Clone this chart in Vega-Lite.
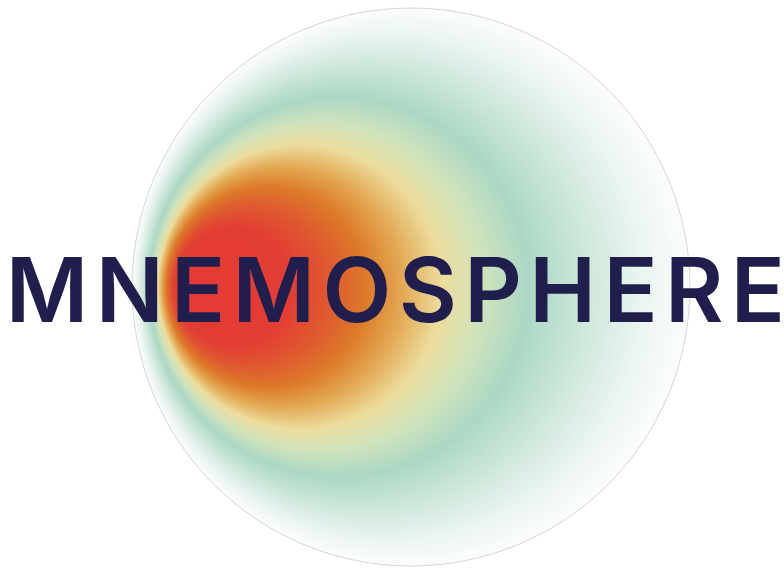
{
  "$schema": "https://vega.github.io/schema/vega-lite/v6.json",
  "width": 784,
  "height": 569,
  "padding": 0,
  "autosize": {"type": "none"},
  "background": "#ffffff",
  "config": {"view": {"stroke": null}},
  "layer": [
    {
      "data": {"values": [{"element": "sphere", "x": 0, "y": 0}]},
      "mark": {
        "type": "point",
        "shape": "circle",
        "filled": true,
        "opacity": 1,
        "size": 311364,
        "stroke": "#b8b8b8",
        "strokeWidth": 0.6,
        "fill": {
          "gradient": "radial",
          "x1": 0.095, "y1": 0.5, "r1": 0,
          "x2": 0.5, "y2": 0.5, "r2": 0.5,
          "stops": [
            {"offset": 0, "color": "#e63a36"},
            {"offset": 0.21, "color": "#e33d34"},
            {"offset": 0.29, "color": "#df5a2f"},
            {"offset": 0.36, "color": "#dd7a2a"},
            {"offset": 0.43, "color": "#e3a853"},
            {"offset": 0.51, "color": "#ecdd9e"},
            {"offset": 0.59, "color": "#cfe3bc"},
            {"offset": 0.68, "color": "#acd7c5"},
            {"offset": 0.8, "color": "#cfe8dc"},
            {"offset": 0.91, "color": "#ecf5f1"},
            {"offset": 1, "color": "#fbfdfc"}
          ]
        }
      },
      "encoding": {
        "x": {"field": "x", "type": "quantitative", "axis": null, "scale": {"domain": [-1.473, 1.337], "nice": false, "zero": false}},
        "y": {"field": "y", "type": "quantitative", "axis": null, "scale": {"domain": [-1.011, 1.029], "nice": false, "zero": false}}
      }
    },
    {
      "data": {"values": [{"element": "wordmark", "label": "M\u200aN\u200aE\u200aM\u200aO\u200aS\u200aP\u200aH\u200aE\u200aR\u200aE", "x": -0.056, "y": -0.125}]},
      "mark": {
        "type": "text",
        "font": "Inter",
        "fontWeight": 600,
        "fontSize": 89.5,
        "fill": "#201e4c",
        "align": "center",
        "baseline": "alphabetic"
      },
      "encoding": {
        "x": {"field": "x", "type": "quantitative"},
        "y": {"field": "y", "type": "quantitative"},
        "text": {"field": "label", "type": "nominal"}
      }
    }
  ]
}
